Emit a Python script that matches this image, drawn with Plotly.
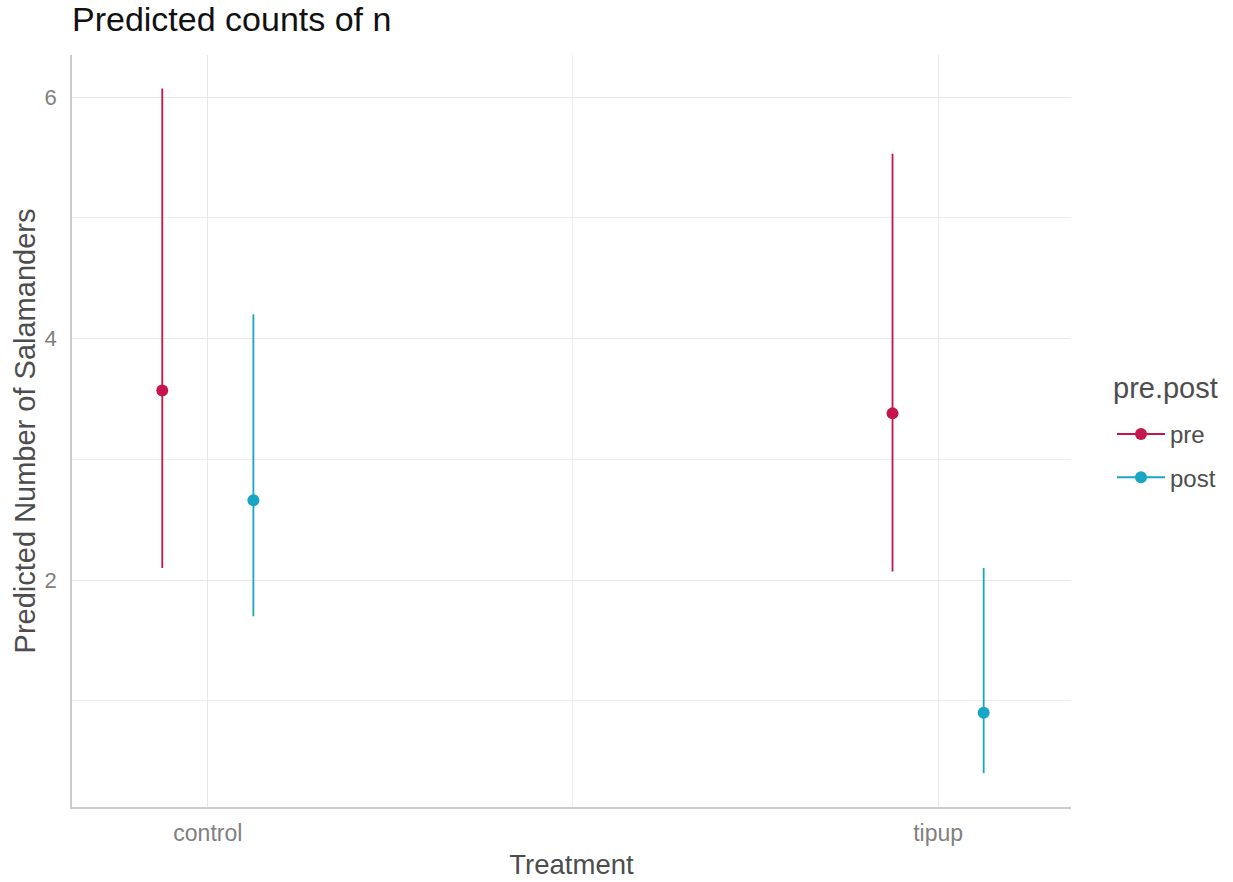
import plotly.graph_objects as go

# ---- data ----
treatment = ["control", "tipup"]
groups = ["pre", "post"]
pre_pred = [3.57, 3.38]
pre_low = [2.10, 2.07]
pre_high = [6.07, 5.53]
post_pred = [2.66, 0.90]
post_low = [1.70, 0.40]
post_high = [4.20, 2.10]

colors = {"pre": "#C4164A", "post": "#19A6C4"}
dodge = {"pre": -0.0624, "post": 0.0624}

series = {
    "pre": (pre_pred, pre_low, pre_high),
    "post": (post_pred, post_low, post_high),
}

FONT = "Liberation Sans, Arial, sans-serif"
W, H = 1233, 882
L, R, T, B = 72, 162, 55, 75
PW, PH = W - L - R, H - T - B


def px_x(x):
    return (x - L) / PW


def px_y(y):
    return 1 - (y - T) / PH


fig = go.Figure()
for g in groups:
    pred, low, high = series[g]
    xs, ys, up, dn = [], [], [], []
    for i, (p, lo, hi) in enumerate(zip(pred, low, high)):
        if i > 0:
            xs.append(None); ys.append(None); up.append(None); dn.append(None)
        xs.append(i + 1 + dodge[g])
        ys.append(p)
        up.append(hi - p)
        dn.append(p - lo)
    fig.add_trace(go.Scatter(
        x=xs, y=ys, name=g, legendgroup=g,
        mode="lines+markers",
        line=dict(color=colors[g], width=2),
        marker=dict(color=colors[g], size=12),
        error_y=dict(type="data", symmetric=False, array=up, arrayminus=dn,
                     color=colors[g], thickness=1.8, width=0),
        connectgaps=False,
    ))

fig.update_layout(
    width=W, height=H,
    margin=dict(l=L, r=R, t=T, b=B),
    paper_bgcolor="white", plot_bgcolor="white",
    font=dict(family=FONT, color="#4d4d4d"),
    title=dict(text="Predicted counts of n", x=72 / W, xref="container", xanchor="left",
               y=1 - 19 / H, yref="container", yanchor="middle",
               font=dict(size=34, color="#111111", family=FONT)),
    legend=dict(font=dict(size=24, color="#4d4d4d"),
                x=px_x(1112), xanchor="left",
                y=px_y(412), yanchor="top",
                tracegroupgap=9, itemwidth=48, bgcolor="rgba(0,0,0,0)"),
    annotations=[dict(text="pre.post", xref="paper", yref="paper",
                      x=px_x(1111), y=px_y(388),
                      xanchor="left", yanchor="middle", showarrow=False,
                      font=dict(size=29, color="#4d4d4d", family=FONT))],
    showlegend=True,
)

fig.update_xaxes(
    range=[0.814, 2.182], automargin=False,
    tickmode="array", tickvals=[1, 2], ticktext=treatment,
    tickfont=dict(size=23, color="#808080"),
    ticks="outside", ticklen=5, tickcolor="rgba(0,0,0,0)",
    showgrid=True, gridcolor="#e8e8e8", gridwidth=1,
    minor=dict(tickmode="array", tickvals=[1.5], showgrid=True, gridcolor="#ececec", gridwidth=1),
    showline=True, linecolor="#cccccc", linewidth=1.5,
    zeroline=False,
    title=dict(text="Treatment", font=dict(size=27.5, color="#4d4d4d"), standoff=9),
)
fig.update_yaxes(
    range=[0.12, 6.348], automargin=False,
    tickmode="array", tickvals=[2, 4, 6],
    tickfont=dict(size=22, color="#808080"),
    ticks="outside", ticklen=9, tickcolor="rgba(0,0,0,0)",
    showgrid=True, gridcolor="#e8e8e8", gridwidth=1,
    minor=dict(tickmode="array", tickvals=[1, 3, 5], showgrid=True, gridcolor="#ececec", gridwidth=1),
    showline=True, linecolor="#cccccc", linewidth=1.5,
    zeroline=False,
    title=dict(text="Predicted Number of Salamanders", font=dict(size=29, color="#4d4d4d"), standoff=0),
)

fig.write_html("out.html", config={"displayModeBar": False},
               post_script="document.body.style.margin='0px';")
